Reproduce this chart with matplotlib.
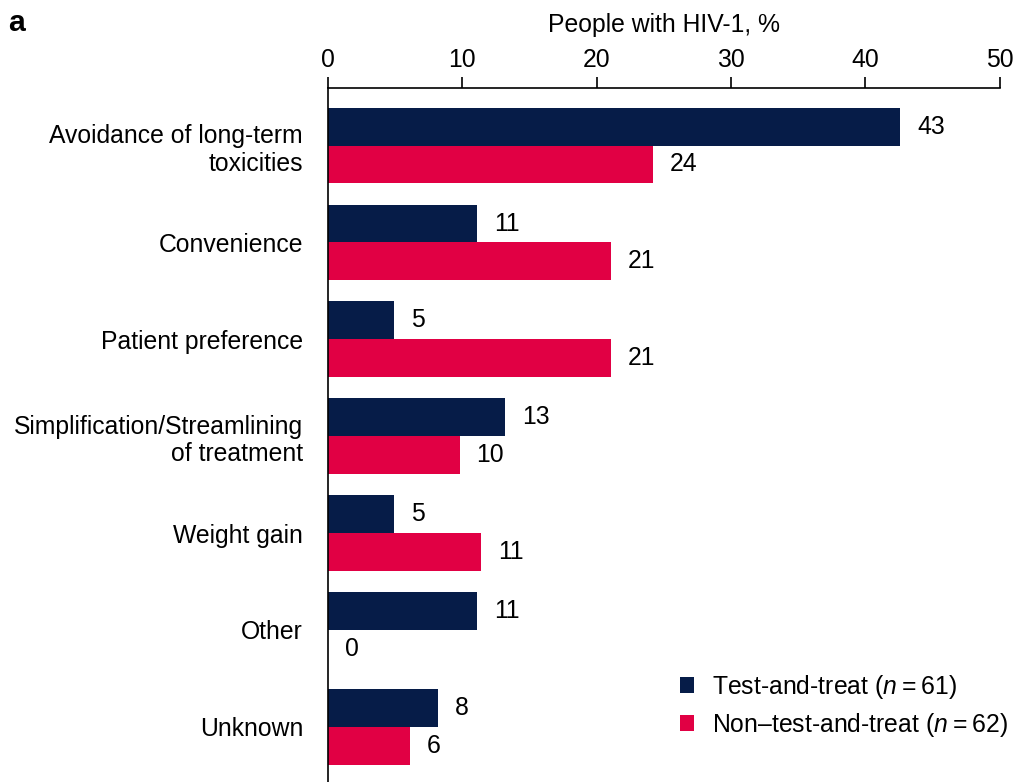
import numpy as np
import matplotlib.pyplot as plt

plt.rcParams['font.family'] = ['Liberation Sans', 'DejaVu Sans']
plt.rcParams['mathtext.fontset'] = 'custom'
plt.rcParams['mathtext.it'] = 'Liberation Sans:italic'
plt.rcParams['mathtext.rm'] = 'Liberation Sans'

categories = ['Avoidance of long-term\ntoxicities', 'Convenience', 'Patient preference',
              'Simplification/Streamlining\nof treatment', 'Weight gain', 'Other', 'Unknown']
test_treat = [42.6, 11.1, 4.9, 13.2, 4.9, 11.1, 8.2]
non_test_treat = [24.2, 21.1, 21.1, 9.8, 11.4, 0.0, 6.1]
test_labels = ['43', '11', '5', '13', '5', '11', '8']
non_labels = ['24', '21', '21', '10', '11', '0', '6']
series_names = ['Test-and-treat ($n$\u2009=\u200961)', 'Non\u2013test-and-treat ($n$\u2009=\u200962)']
x_ticks = [0, 10, 20, 30, 40, 50]

navy = '#061C48'
red = '#E10044'
fs = 17.8

fig = plt.figure(figsize=(10.19, 7.82), dpi=100)
ax = fig.add_axes([0.322, 0.0, 0.659, 0.887])

y = np.arange(len(categories))
h = 0.39
b1 = ax.barh(y - h / 2, test_treat, height=h, color=navy, label=series_names[0])
b2 = ax.barh(y + h / 2, non_test_treat, height=h, color=red, label=series_names[1])

# value labels next to the bar ends
for bars, labels in ((b1, test_labels), (b2, non_labels)):
    for bar, lab in zip(bars, labels):
        ax.annotate(lab, (bar.get_width(), bar.get_y() + bar.get_height() / 2),
                    xytext=(12, 0), textcoords='offset points',
                    ha='left', va='center', fontsize=fs)

ax.set_xlim(0, 50)
ax.set_ylim(len(categories) - 0.43, -0.59)
ax.set_xticks(x_ticks)
ax.xaxis.tick_top()
ax.xaxis.set_label_position('top')
ax.set_xlabel('People with HIV-1, %', fontsize=fs, labelpad=11)
ax.tick_params(axis='x', direction='out', length=8, width=1.2, labelsize=fs, pad=4)

ax.set_yticks(y)
ax.set_yticklabels(categories, fontsize=fs)
ax.tick_params(axis='y', length=0, pad=18)

for s in ('right', 'bottom'):
    ax.spines[s].set_visible(False)
ax.spines['top'].set_linewidth(1.2)
ax.spines['left'].set_linewidth(1.2)

ax.legend(loc='lower right', bbox_to_anchor=(1.045, 0.03), frameon=False, fontsize=fs,
          handlelength=0.6, handleheight=0.6, handletextpad=0.7, labelspacing=0.4)

fig.text(0.008, 0.97, 'a', fontsize=fs + 4, fontweight='bold', va='center')

fig.savefig('out.png', dpi=100)
